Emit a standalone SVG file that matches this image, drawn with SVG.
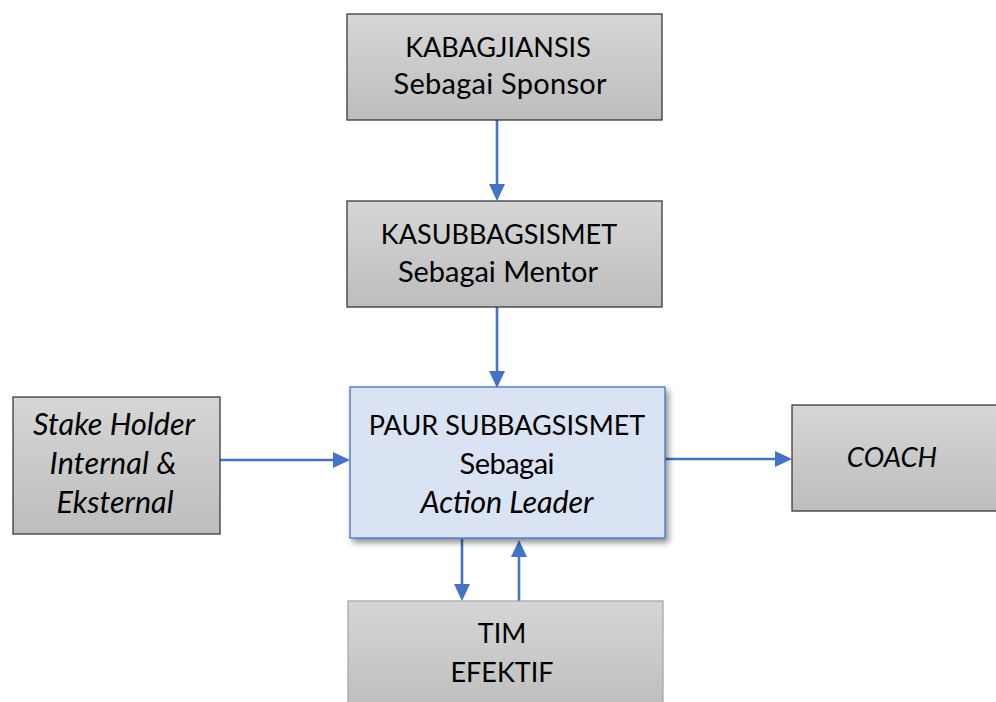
<svg xmlns="http://www.w3.org/2000/svg" width="996" height="702" viewBox="0 0 996 702">
<defs>
<linearGradient id="gray" x1="0" y1="0" x2="0" y2="1">
<stop offset="0" stop-color="#d6d6d6"/>
<stop offset="1" stop-color="#bdbdbd"/>
</linearGradient>
<filter id="shadow" x="-10%" y="-10%" width="130%" height="130%">
<feGaussianBlur in="SourceAlpha" stdDeviation="3"/>
<feOffset dx="3" dy="4" result="b"/>
<feComponentTransfer><feFuncA type="linear" slope="0.45"/></feComponentTransfer>
<feMerge><feMergeNode/><feMergeNode in="SourceGraphic"/></feMerge>
</filter>
</defs>
<style>
.box{fill:url(#gray);stroke:#3a3a3a;stroke-width:1.3}
.boxl{fill:url(#gray);stroke:#a8a8a8;stroke-width:1.3}
.main{fill:#DAE3F3;stroke:#4472C4;stroke-width:1.3}
text{font-family:Lato,"Liberation Sans",sans-serif;font-size:29px;fill:#000;text-anchor:middle}
.u{font-size:27px}
.i{font-style:italic;font-size:30.5px}
.iu{font-style:italic;font-size:27.5px}
.c{stroke:#4472C4;stroke-width:2.6;fill:none}
.h{fill:#4472C4}
</style>
<g id="connectors">
<line class="c" x1="497" y1="120" x2="497" y2="186"/>
<path class="h" d="M489,184 L505,184 L497,201 Z"/>
<line class="c" x1="497" y1="307" x2="497" y2="372"/>
<path class="h" d="M489,371 L505,371 L497,388 Z"/>
<line class="c" x1="220" y1="460" x2="335" y2="460"/>
<path class="h" d="M333,452 L333,468 L350,460 Z"/>
<line class="c" x1="665" y1="459" x2="777" y2="459"/>
<path class="h" d="M775,451 L775,467 L792,459 Z"/>
<line class="c" x1="462" y1="539" x2="462" y2="586"/>
<path class="h" d="M454,584 L470,584 L462,601 Z"/>
<line class="c" x1="519" y1="601" x2="519" y2="555"/>
<path class="h" d="M511,557 L527,557 L519,540 Z"/>
</g>
<g id="kabagjiansis">
<rect class="box" x="347" y="14" width="315" height="106"/>
<text x="498" y="57" class="u">KABAGJIANSIS</text>
<text x="500" y="94" textLength="213">Sebagai Sponsor</text>
</g>
<g id="kasubbagsismet">
<rect class="box" x="347" y="201" width="315" height="106"/>
<text x="499" y="244" class="u">KASUBBAGSISMET</text>
<text x="498" y="282" textLength="200">Sebagai Mentor</text>
</g>
<g id="paur">
<rect class="main" x="350" y="387" width="315" height="151" filter="url(#shadow)"/>
<text x="507" y="435" class="u">PAUR SUBBAGSISMET</text>
<text x="507" y="474" textLength="95">Sebagai</text>
<text x="507" y="513" class="i" textLength="173">Action Leader</text>
</g>
<g id="stakeholder">
<rect class="box" x="13" y="397" width="207" height="137"/>
<text x="114" y="435" class="i" textLength="162">Stake Holder</text>
<text x="113" y="474" class="i" textLength="127">Internal &amp;</text>
<text x="115" y="513" class="i" textLength="117">Eksternal</text>
</g>
<g id="coach">
<rect class="box" x="792" y="405" width="210" height="106"/>
<text x="892" y="467" class="iu">COACH</text>
</g>
<g id="tim">
<rect class="boxl" x="348" y="601" width="315" height="110"/>
<text x="502" y="643" class="u">TIM</text>
<text x="502" y="682" class="u">EFEKTIF</text>
</g>
</svg>
